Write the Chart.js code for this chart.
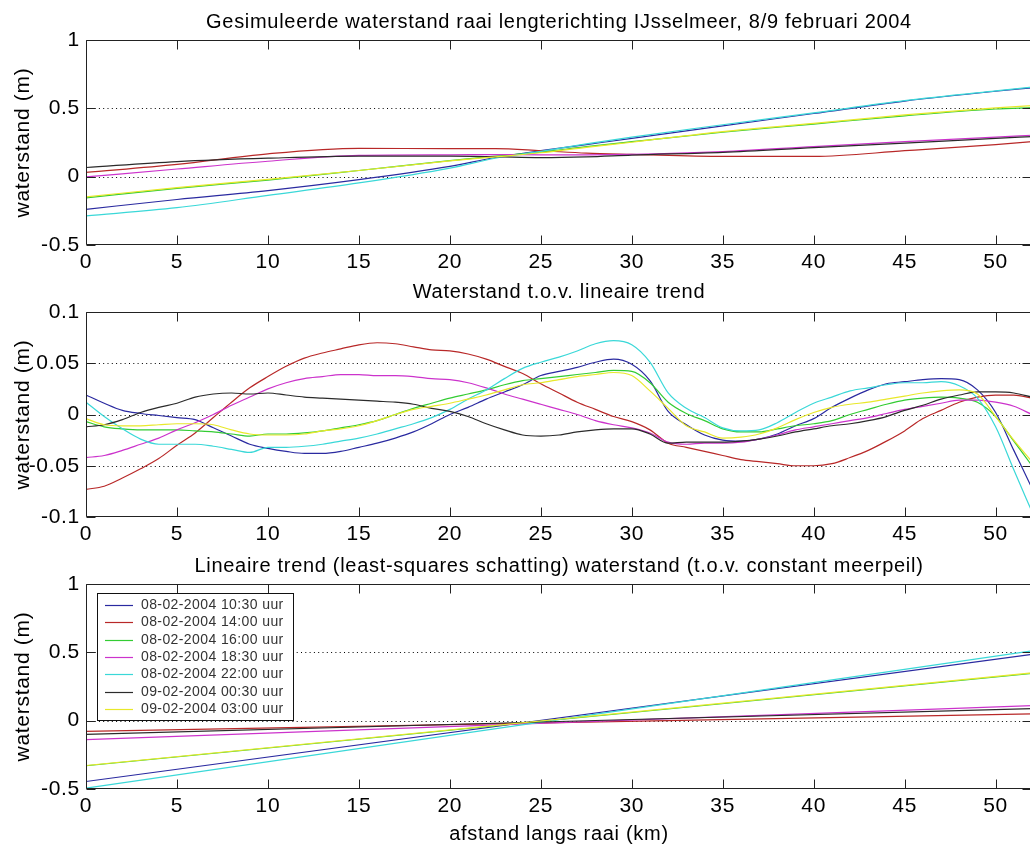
<!DOCTYPE html>
<html><head><meta charset="utf-8">
<script src="https://cdn.jsdelivr.net/npm/chart.js@4.4.1/dist/chart.umd.min.js"></script>
<style>
html,body{margin:0;padding:0;background:#fff;overflow:hidden;width:1030px;height:848px;}
canvas{position:absolute;left:0;}
</style></head><body>
<canvas id="c1" width="1032" height="275" style="top:0px"></canvas>
<canvas id="c2" width="1032" height="272" style="top:275px"></canvas>
<canvas id="c3" width="1032" height="301" style="top:547px"></canvas>
<script>
// ---------- data ----------
const seriesLabels = ['08-02-2004 10:30 uur','08-02-2004 14:00 uur','08-02-2004 16:00 uur','08-02-2004 18:30 uur','08-02-2004 22:00 uur','09-02-2004 00:30 uur','09-02-2004 03:00 uur'];
const xTickValues = [0,5,10,15,20,25,30,35,40,45,50];
const yTicksLevel = [-0.5,0,0.5,1];
const yTicksResidual = [-0.1,-0.05,0,0.05,0.1];
const yTicksTrend = [-0.5,0,0.5,1];

// panel 1: simulated water level
const kmLevel = [0,5,10,15,20,22.5,25,27.5,30,35,40,45,50,52];
const level1030 = [-0.239,-0.167,-0.102,-0.022,0.075,0.140,0.190,0.235,0.280,0.372,0.462,0.553,0.625,0.650];
const level1400 = [0.031,0.090,0.167,0.207,0.205,0.205,0.190,0.172,0.163,0.148,0.148,0.190,0.235,0.256];
const level1600 = [-0.155,-0.085,-0.025,0.045,0.118,0.150,0.180,0.220,0.256,0.325,0.385,0.445,0.495,0.505];
const level1830 = [-0.002,0.056,0.113,0.156,0.160,0.162,0.160,0.160,0.163,0.183,0.220,0.256,0.290,0.303];
const level2200 = [-0.287,-0.227,-0.137,-0.046,0.063,0.135,0.185,0.240,0.290,0.380,0.467,0.556,0.628,0.655];
const level0030 = [0.067,0.110,0.135,0.150,0.150,0.146,0.140,0.145,0.158,0.178,0.212,0.245,0.280,0.293];
const level0300 = [-0.148,-0.080,-0.020,0.045,0.115,0.145,0.175,0.215,0.252,0.330,0.390,0.452,0.503,0.520];

// panel 2: residual w.r.t. linear trend
const km = [0,1,2,3,4,5,6,7,8,9,10,11,12,13,14,15,16,17,18,19,20,21,22,23,24,25,26,27,28,29,30,31,32,33,34,35,36,37,38,39,40,41,42,43,44,45,46,47,48,49,50,51,52];
const res1030 = [0.019,0.011,0.004,0.001,-0.001,-0.003,-0.005,-0.013,-0.021,-0.029,-0.033,-0.036,-0.038,-0.038,-0.036,-0.032,-0.028,-0.023,-0.017,-0.009,0.000,0.007,0.015,0.022,0.029,0.038,0.042,0.046,0.051,0.054,0.049,0.033,0.003,-0.010,-0.020,-0.025,-0.026,-0.024,-0.019,-0.011,-0.004,0.007,0.016,0.024,0.030,0.032,0.034,0.035,0.034,0.024,0.002,-0.035,-0.072];
const res1400 = [-0.073,-0.070,-0.062,-0.053,-0.043,-0.030,-0.018,-0.003,0.012,0.026,0.037,0.047,0.055,0.060,0.064,0.068,0.070,0.069,0.066,0.063,0.062,0.059,0.054,0.047,0.040,0.030,0.021,0.012,0.005,-0.002,-0.007,-0.015,-0.028,-0.032,-0.036,-0.040,-0.044,-0.046,-0.048,-0.050,-0.050,-0.048,-0.042,-0.035,-0.026,-0.016,-0.004,0.004,0.012,0.017,0.019,0.019,0.016];
const res1600 = [-0.007,-0.012,-0.014,-0.015,-0.015,-0.015,-0.016,-0.017,-0.019,-0.021,-0.019,-0.019,-0.018,-0.016,-0.013,-0.010,-0.006,0.000,0.006,0.011,0.016,0.020,0.024,0.029,0.033,0.035,0.037,0.039,0.041,0.043,0.042,0.031,0.012,0.001,-0.006,-0.014,-0.017,-0.017,-0.014,-0.011,-0.009,-0.006,0.000,0.005,0.010,0.014,0.016,0.017,0.016,0.012,-0.002,-0.026,-0.050];
const res1830 = [-0.042,-0.040,-0.035,-0.029,-0.023,-0.015,-0.008,0.000,0.009,0.017,0.025,0.031,0.035,0.037,0.039,0.039,0.038,0.038,0.037,0.035,0.034,0.031,0.026,0.020,0.015,0.010,0.005,0.000,-0.006,-0.010,-0.013,-0.018,-0.027,-0.029,-0.028,-0.028,-0.027,-0.024,-0.020,-0.015,-0.012,-0.009,-0.006,-0.003,0.001,0.005,0.008,0.011,0.014,0.014,0.012,0.008,0.000];
const res2200 = [0.012,-0.002,-0.014,-0.024,-0.029,-0.029,-0.029,-0.031,-0.034,-0.037,-0.032,-0.032,-0.031,-0.029,-0.026,-0.023,-0.019,-0.014,-0.009,-0.003,0.005,0.015,0.024,0.035,0.045,0.051,0.056,0.062,0.069,0.072,0.068,0.051,0.021,0.006,-0.003,-0.013,-0.016,-0.015,-0.008,0.002,0.011,0.017,0.023,0.026,0.029,0.031,0.031,0.032,0.028,0.016,-0.012,-0.054,-0.095];
const res0030 = [-0.012,-0.010,-0.005,0.002,0.007,0.011,0.017,0.020,0.021,0.020,0.021,0.019,0.017,0.016,0.015,0.014,0.013,0.012,0.010,0.006,0.003,-0.002,-0.009,-0.015,-0.020,-0.021,-0.020,-0.017,-0.015,-0.014,-0.014,-0.019,-0.028,-0.027,-0.027,-0.027,-0.026,-0.024,-0.021,-0.017,-0.014,-0.011,-0.009,-0.006,-0.002,0.004,0.009,0.015,0.019,0.022,0.022,0.021,0.017];
const res0300 = [-0.004,-0.010,-0.011,-0.011,-0.010,-0.009,-0.009,-0.010,-0.015,-0.019,-0.020,-0.020,-0.019,-0.016,-0.014,-0.011,-0.006,0.000,0.005,0.008,0.011,0.015,0.019,0.024,0.029,0.031,0.034,0.037,0.039,0.041,0.038,0.023,0.006,-0.011,-0.017,-0.023,-0.022,-0.019,-0.013,-0.005,0.002,0.007,0.010,0.012,0.015,0.018,0.021,0.023,0.024,0.020,-0.002,-0.025,-0.046];

// panel 3: linear trend (least squares)
const kmTrend = [0,52];
const trend1030 = [-0.445,0.485];
const trend1400 = [-0.078,0.050];
const trend1600 = [-0.330,0.345];
const trend1830 = [-0.138,0.110];
const trend2200 = [-0.494,0.510];
const trend0030 = [-0.100,0.088];
const trend0300 = [-0.328,0.350];

// ---------- styling ----------
const COLORS = ['#2a2aa0','#b82828','#33cc33','#cc33cc','#3ad8d8','#2b2b2b','#e8e82a'];
const FONT = '"Liberation Sans", Arial, Helvetica, sans-serif';
Chart.defaults.font.family = FONT;
Chart.defaults.color = '#000';
const LS = '0.7px';

function pts(xs, ys){ return xs.map((x,i)=>({x:x, y:ys[i]})); }
function makeDatasets(xs, list){
  return list.map((ys,i)=>({
    label: seriesLabels[i], data: pts(xs, ys),
    borderColor: COLORS[i], backgroundColor: COLORS[i],
    borderWidth: 1.2, pointRadius: 0, fill: false,
    cubicInterpolationMode: 'monotone', order: 7 - i
  }));
}

const spacing = {
  id: 'spacing',
  beforeInit(c){ c.ctx.letterSpacing = LS; },
  beforeUpdate(c){ c.ctx.letterSpacing = LS; },
  beforeDraw(c){ c.ctx.letterSpacing = LS; }
};

const frame = {
  id: 'frame',
  beforeDatasetsDraw(chart){
    const {ctx, chartArea: a, scales: {y}} = chart;
    ctx.save();
    ctx.strokeStyle = '#000'; ctx.lineWidth = 1; ctx.setLineDash([1, 3.3]);
    for (const t of y.ticks){
      if (t.value > y.min + 1e-9 && t.value < y.max - 1e-9){
        const py = Math.round(y.getPixelForValue(t.value)) + 0.5;
        ctx.beginPath(); ctx.moveTo(a.left, py); ctx.lineTo(a.right, py); ctx.stroke();
      }
    }
    ctx.restore();
  },
  afterDatasetsDraw(chart){
    const {ctx, chartArea: a, scales: {x, y}} = chart;
    const L = Math.round(a.left) + 0.5, R = Math.round(a.right) - 0.5, T = Math.round(a.top) + 0.5, B = Math.round(a.bottom) - 0.5;
    ctx.save();
    ctx.strokeStyle = '#222'; ctx.lineWidth = 1; ctx.setLineDash([]);
    ctx.beginPath(); ctx.moveTo(L, T); ctx.lineTo(R, T); ctx.lineTo(R, B); ctx.lineTo(L, B); ctx.closePath(); ctx.stroke();
    const len = 9;
    ctx.beginPath();
    for (const t of x.ticks){
      const px = Math.round(x.getPixelForValue(t.value)) + 0.5;
      ctx.moveTo(px, B); ctx.lineTo(px, B - len);
      ctx.moveTo(px, T); ctx.lineTo(px, T + len);
    }
    for (const t of y.ticks){
      const py = Math.round(y.getPixelForValue(t.value)) + 0.5;
      ctx.moveTo(L, py); ctx.lineTo(L + len, py);
      ctx.moveTo(R, py); ctx.lineTo(R - len, py);
    }
    ctx.stroke();
    ctx.restore();
  }
};

const boxLegend = {
  id: 'boxLegend',
  afterDraw(chart){
    const {ctx, chartArea: a} = chart;
    const left = Math.round(a.left) + 11, top = Math.round(a.top) + 9, w = 196, h = 127;
    ctx.save();
    ctx.letterSpacing = '0.4px';
    ctx.fillStyle = '#fff'; ctx.fillRect(left + 0.5, top + 0.5, w, h);
    ctx.strokeStyle = '#111'; ctx.lineWidth = 1; ctx.setLineDash([]);
    ctx.strokeRect(left + 0.5, top + 0.5, w, h);
    ctx.font = '14px ' + FONT; ctx.textBaseline = 'middle'; ctx.textAlign = 'left';
    chart.data.datasets.forEach((ds, i) => {
      const yy = Math.round(top + 12 + i * 17.33) + 0.5;
      ctx.strokeStyle = ds.borderColor; ctx.lineWidth = 1.2;
      ctx.beginPath(); ctx.moveTo(left + 8, yy); ctx.lineTo(left + 36, yy); ctx.stroke();
      ctx.fillStyle = '#333';
      ctx.fillText(ds.label, left + 44, yy);
    });
    ctx.restore();
  }
};

function makeChart(id, xs, list, yTicks, ymin, ymax, title, titlePad, xTitle, xAxisH, extra){
  return new Chart(document.getElementById(id), {
    type: 'line',
    data: {datasets: makeDatasets(xs, list)},
    options: {
      responsive: false, animation: false, devicePixelRatio: 1,
      layout: {padding: 0},
      plugins: {
        legend: {display: false}, tooltip: {enabled: false},
        title: {display: true, text: title, fullSize: false, color: '#000',
                font: {size: 20, weight: 'normal', lineHeight: 1.2}, padding: titlePad}
      },
      scales: {
        x: {
          type: 'linear', min: 0, max: 52,
          grid: {display: false, drawTicks: false}, border: {display: false},
          afterBuildTicks: s => { s.ticks = xTickValues.map(v => ({value: v})); },
          ticks: {font: {size: 21}, color: '#000', padding: 5, maxRotation: 0, autoSkip: false, callback: v => String(v)},
          title: xTitle ? {display: true, text: xTitle, font: {size: 20}, color: '#000', padding: {top: 2, bottom: 2}} : {display: false},
          afterFit: s => { s.height = xAxisH; }
        },
        y: {
          type: 'linear', min: ymin, max: ymax,
          grid: {display: false, drawTicks: false}, border: {display: false},
          afterBuildTicks: s => { s.ticks = yTicks.map(v => ({value: v})); },
          ticks: {font: {size: 21}, color: '#000', padding: 6, autoSkip: false, callback: v => String(v)},
          title: {display: true, text: 'waterstand (m)', font: {size: 21}, color: '#000', padding: {top: 11, bottom: 11}},
          afterFit: s => { s.width = 86; }
        }
      }
    },
    plugins: [spacing, frame].concat(extra || [])
  });
}

makeChart('c1', kmLevel,
  [level1030, level1400, level1600, level1830, level2200, level0030, level0300],
  yTicksLevel, -0.5, 1,
  'Gesimuleerde waterstand raai lengterichting IJsselmeer, 8/9 februari 2004',
  {top: 10, bottom: 6}, null, 30);

makeChart('c2', km,
  [res1030, res1400, res1600, res1830, res2200, res0030, res0300],
  yTicksResidual, -0.1, 0.1,
  'Waterstand t.o.v. lineaire trend',
  {top: 5, bottom: 8}, null, 30);

makeChart('c3', kmTrend,
  [trend1030, trend1400, trend1600, trend1830, trend2200, trend0030, trend0300],
  yTicksTrend, -0.5, 1,
  'Lineaire trend (least-squares schatting) waterstand (t.o.v. constant meerpeil)',
  {top: 7, bottom: 6}, 'afstand langs raai (km)', 59, [boxLegend]);
</script>
</body></html>
